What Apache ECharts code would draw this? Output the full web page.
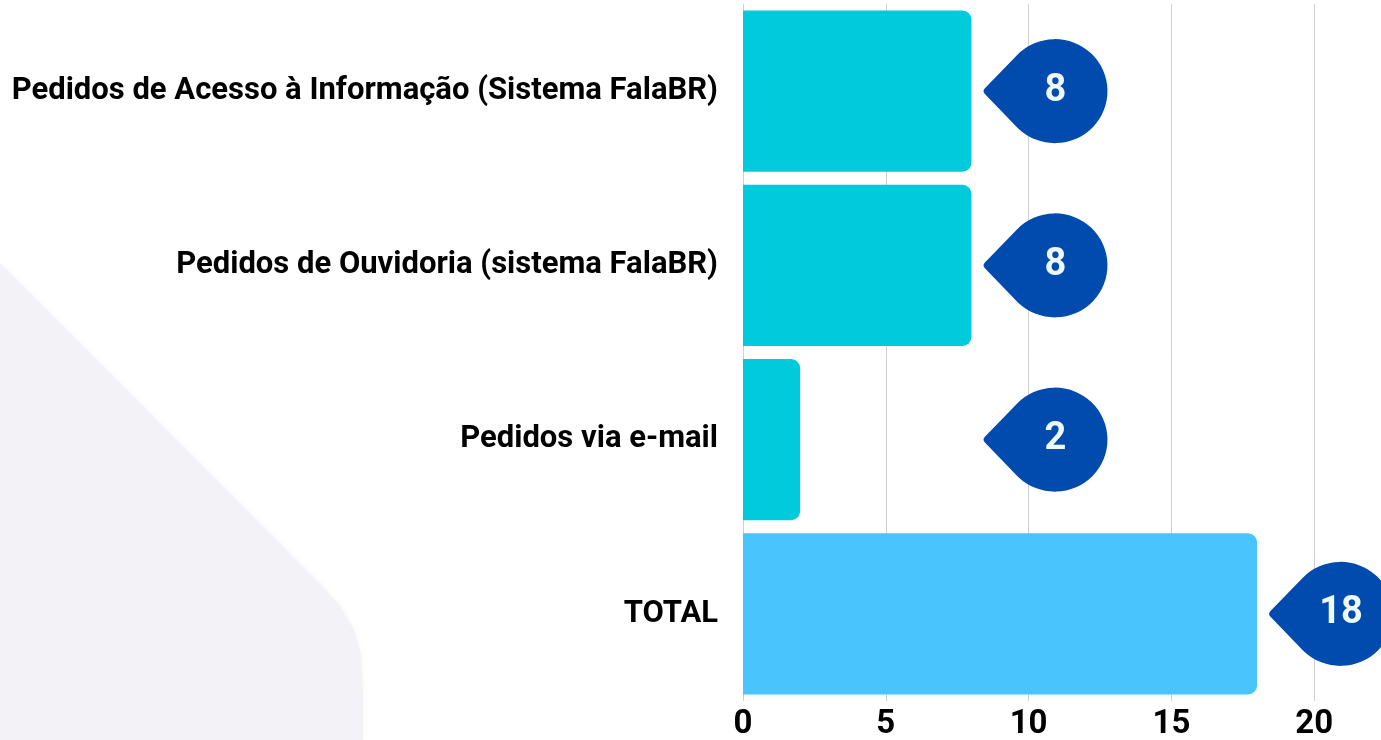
<!DOCTYPE html>
<html>
<head>
<meta charset="utf-8">
<script src="https://cdn.jsdelivr.net/npm/echarts@6/dist/echarts.min.js"></script>
<style>
html,body{margin:0;padding:0;background:#ffffff;}
#chart{width:1381px;height:740px;}
</style>
</head>
<body>
<div id="chart"></div>
<script>
const categories = [
  'Pedidos de Acesso à Informação (Sistema FalaBR)',
  'Pedidos de Ouvidoria (sistema FalaBR)',
  'Pedidos via e-mail',
  'TOTAL'
];
const values = [8, 8, 2, 18];
const xTicks = [0, 5, 10, 15, 20];

const barColors = ['#00CADB', '#00CADB', '#00CADB', '#49C4FC'];
const pinColor = '#004BAD';
const labelMin = 8;

const pinPath = 'path://M2.8 49.1 L34.5 16 A52 52 0 1 1 34.5 88 L2.8 54.9 Q0 52 2.8 49.1 Z';

const chart = echarts.init(document.getElementById('chart'), null, {renderer: 'canvas'});

const barData = values.map((v, i) => ({
  value: v,
  itemStyle: { color: barColors[i] }
}));
const pinData = values.map((v, i) => ({
  value: [Math.max(v, labelMin), categories[i]],
  label: { formatter: String(v) }
}));

chart.setOption({
  backgroundColor: '#ffffff',
  animation: false,
  graphic: [{
    type: 'polygon',
    z: -10,
    silent: true,
    shape: { points: [[0, 263], [322, 586], [340, 606], [354, 630], [361, 655], [363, 690], [363, 740], [0, 740]] },
    style: { fill: '#f3f3f7', shadowBlur: 6, shadowColor: 'rgba(0,0,0,0.04)' }
  }],
  grid: { left: 743, right: -76, top: 4, bottom: 39, containLabel: false, outerBoundsMode: 'none' },
  xAxis: {
    type: 'value',
    min: 0,
    max: 25,
    interval: 5,
    axisLine: { show: false },
    axisTick: { show: false },
    splitLine: { show: true, lineStyle: { color: '#cfcfcf', width: 1 } },
    axisLabel: {
      margin: 7,
      color: '#000000',
      fontFamily: 'Roboto',
      fontWeight: 'bold',
      fontSize: 33,
      formatter: v => (xTicks.indexOf(v) >= 0 ? String(v) : '')
    }
  },
  yAxis: {
    type: 'category',
    inverse: true,
    data: categories,
    axisLine: { show: false },
    axisTick: { show: false },
    axisLabel: {
      margin: 25,
      color: '#000000',
      fontFamily: 'Roboto',
      fontWeight: 'bold',
      fontSize: 31
    }
  },
  series: [
    {
      type: 'bar',
      data: barData,
      barCategoryGap: '7.5%',
      itemStyle: { borderRadius: [0, 9, 9, 0] },
      z: 2
    },
    {
      type: 'scatter',
      data: pinData,
      symbol: pinPath,
      symbolSize: [124, 104],
      symbolOffset: [74, 0],
      itemStyle: { color: pinColor, opacity: 1 },
      label: {
        show: true,
        position: 'inside',
        offset: [10, 0],
        color: '#EEF8F4',
        fontFamily: 'Roboto',
        fontWeight: 'bold',
        fontSize: 38
      },
      z: 5
    }
  ]
});
</script>
</body>
</html>
